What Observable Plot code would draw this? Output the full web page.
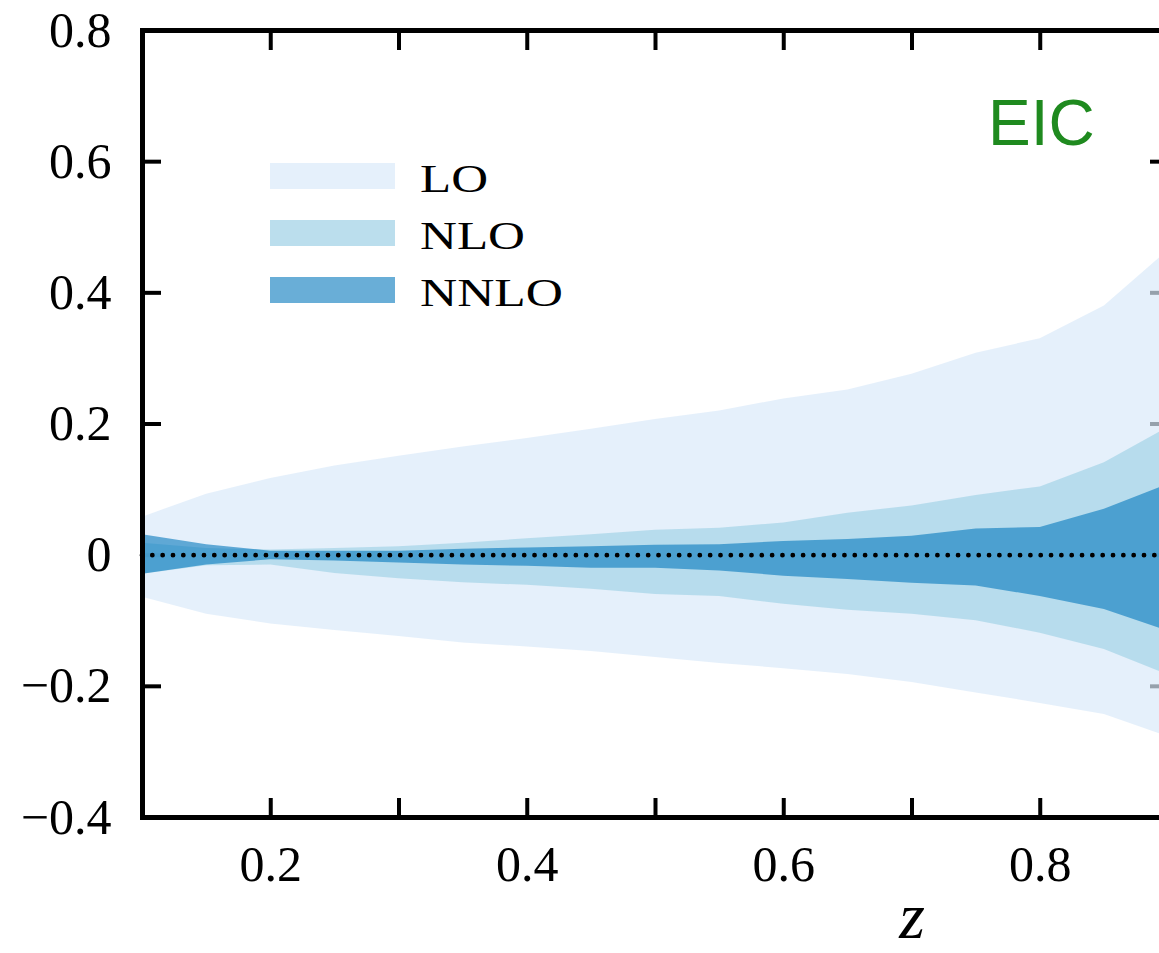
<!DOCTYPE html>
<html>
<head>
<meta charset="utf-8">
<script src="https://cdn.jsdelivr.net/npm/d3@7"></script>
<script src="https://cdn.jsdelivr.net/npm/@observablehq/plot@0.6"></script>
<style>
  html, body { margin: 0; padding: 0; overflow: hidden; background: white; width: 1159px; height: 953px; }
  #wrap { position: relative; width: 1159px; height: 953px; overflow: hidden; }
  #wrap > svg { max-width: none !important; width: 1190px !important; height: 953px !important; display: block; }
  #wrap > svg#overlay { position: absolute; left: 0; top: 0; width: 1159px !important; pointer-events: none; }
</style>
</head>
<body>
<div id="wrap"></div>
<script>
// z grid and band edges (relative uncertainty)
const z       = [0.1, 0.15, 0.2, 0.25, 0.3, 0.35, 0.4, 0.45, 0.5, 0.55, 0.6, 0.65, 0.7, 0.75, 0.8, 0.85, 0.9];
const loUp    = [0.058, 0.093, 0.117, 0.136, 0.151, 0.165, 0.178, 0.192, 0.207, 0.220, 0.238, 0.252, 0.276, 0.308, 0.330, 0.380, 0.465];
const loLo    = [-0.064, -0.090, -0.105, -0.115, -0.124, -0.134, -0.140, -0.147, -0.156, -0.165, -0.173, -0.182, -0.194, -0.210, -0.226, -0.243, -0.277];
const nloUp   = [0.018, 0.010, 0.008, 0.010, 0.013, 0.018, 0.025, 0.031, 0.038, 0.041, 0.049, 0.064, 0.075, 0.091, 0.104, 0.141, 0.195];
const nloLo   = [-0.029, -0.016, -0.015, -0.028, -0.036, -0.042, -0.046, -0.052, -0.060, -0.063, -0.075, -0.084, -0.090, -0.100, -0.119, -0.144, -0.183];
const nnloUp  = [0.031, 0.016, 0.006, 0.006, 0.006, 0.009, 0.011, 0.013, 0.015, 0.016, 0.021, 0.024, 0.029, 0.040, 0.042, 0.070, 0.108];
const nnloLo  = [-0.029, -0.015, -0.007, -0.009, -0.012, -0.015, -0.017, -0.020, -0.020, -0.024, -0.032, -0.037, -0.043, -0.047, -0.063, -0.083, -0.116];

const seriesNames = ["LO", "NLO", "NNLO"];
const seriesFill  = ["rgb(218,233,249)", "rgb(175,216,234)", "rgb(5,120,188)"];
const seriesAlpha = [0.69, 0.85, 0.6];
const legendWidths = [68, 105, 143];

const xTickVals  = [0.2, 0.3, 0.4, 0.5, 0.6, 0.7, 0.8];
const xLabelVals = [0.2, 0.4, 0.6, 0.8];
const yTickVals  = [0.6, 0.4, 0.2, 0, -0.2];
const yLabelVals = [0.8, 0.6, 0.4, 0.2, 0, -0.2, -0.4];
const xDomain = [0.1, 0.9];
const yDomain = [-0.4, 0.8];
const panelLabel = "EIC";
const xAxisLabel = "z";

const bands = [
  z.map((x, i) => ({x, lo: loLo[i], hi: loUp[i]})),
  z.map((x, i) => ({x, lo: nloLo[i], hi: nloUp[i]})),
  z.map((x, i) => ({x, lo: nnloLo[i], hi: nnloUp[i]}))
];

const fmt = d => d === 0 ? "0" : (d < 0 ? "\u2212" : "") + Math.abs(d).toFixed(1);
const TS = 19;

const chart = Plot.plot({
  width: 1190,
  height: 953,
  marginLeft: 142,
  marginRight: 22,
  marginTop: 30,
  marginBottom: 136,
  style: {fontFamily: "'Liberation Serif', 'DejaVu Serif', serif", fontSize: "50px", background: "white", color: "black", overflow: "visible"},
  x: {domain: xDomain},
  y: {domain: yDomain},
  marks: [
    // inward tick marks
    Plot.axisX({anchor: "bottom", ticks: xTickVals, tickSize: TS, dy: -TS, strokeWidth: 4, tickFormat: () => "", label: null}),
    Plot.axisX({anchor: "top", ticks: xTickVals, tickSize: TS, dy: TS, strokeWidth: 4, tickFormat: () => "", label: null}),
    Plot.axisY({anchor: "left", ticks: yTickVals, tickSize: TS, dx: TS, strokeWidth: 4, tickFormat: () => "", label: null}),
    Plot.axisY({anchor: "right", ticks: yTickVals, tickSize: TS, dx: -TS, strokeWidth: 4, tickFormat: () => "", label: null}),
    // bands
    ...bands.map((b, i) => Plot.areaY(b, {x: "x", y1: "lo", y2: "hi", fill: seriesFill[i], fillOpacity: seriesAlpha[i], curve: "linear"})),
    // zero line
    Plot.ruleY([0], {stroke: "black", strokeWidth: 4.8, strokeDasharray: "0 10.33", strokeLinecap: "round"}),
    Plot.frame({stroke: "black", strokeWidth: 5}),
    // tick labels
    Plot.axisX({anchor: "bottom", ticks: xLabelVals, tickSize: 0, tickPadding: 28, tickFormat: fmt, label: null, fontSize: 50}),
    Plot.axisY({anchor: "left", ticks: yLabelVals, tickSize: 0, tickPadding: 31, tickFormat: fmt, label: null, fontSize: 50})
  ]
});

const wrap = document.getElementById("wrap");
wrap.appendChild(chart);

// overlay: legend, panel label, axis title
const ns = "http://www.w3.org/2000/svg";
const ov = document.createElementNS(ns, "svg");
ov.setAttribute("id", "overlay");
ov.setAttribute("width", 1159);
ov.setAttribute("height", 953);
wrap.appendChild(ov);

const legX = 270, legY0 = 163, legDy = 57, swW = 125, swH = 26;
seriesNames.forEach((name, i) => {
  const r = document.createElementNS(ns, "rect");
  r.setAttribute("x", legX);
  r.setAttribute("y", legY0 + i * legDy);
  r.setAttribute("width", swW);
  r.setAttribute("height", swH);
  r.setAttribute("fill", seriesFill[i]);
  r.setAttribute("fill-opacity", seriesAlpha[i]);
  ov.appendChild(r);
  const t = document.createElementNS(ns, "text");
  t.setAttribute("x", 420);
  t.setAttribute("y", legY0 + i * legDy + 29);
  t.setAttribute("font-family", "'Liberation Serif', serif");
  t.setAttribute("font-size", 41);
  t.setAttribute("textLength", legendWidths[i]);
  t.setAttribute("lengthAdjust", "spacingAndGlyphs");
  t.setAttribute("fill", "black");
  t.textContent = name;
  ov.appendChild(t);
});

const eic = document.createElementNS(ns, "text");
eic.setAttribute("x", 988);
eic.setAttribute("y", 145);
eic.setAttribute("font-family", "'Liberation Sans', Arial, sans-serif");
eic.setAttribute("font-size", 64);
eic.setAttribute("fill", "#1f8a1f");
eic.textContent = panelLabel;
ov.appendChild(eic);

const zl = document.createElementNS(ns, "text");
zl.setAttribute("x", 912);
zl.setAttribute("y", 938);
zl.setAttribute("text-anchor", "middle");
zl.setAttribute("font-family", "'Liberation Serif', serif");
zl.setAttribute("font-style", "italic");
zl.setAttribute("font-size", 66);
zl.setAttribute("fill", "black");
zl.textContent = xAxisLabel;
ov.appendChild(zl);
</script>
</body>
</html>
